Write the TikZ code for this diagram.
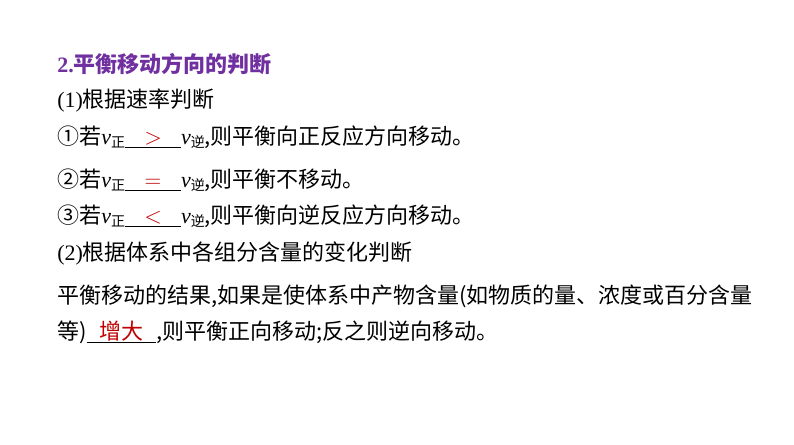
\documentclass[tikz,border=0pt]{standalone}
\usepackage{fontspec}
\setmainfont{Liberation Serif}
\newfontfamily\cjk{Noto Sans CJK SC}
\definecolor{ttl}{RGB}{112,48,160}
\definecolor{ans}{RGB}{192,0,0}
\newcommand{\blankfill}[2]{\rlap{\rule[-2pt]{#1}{0.6pt}}\makebox[#1]{\color{ans}#2}}
\newcommand{\vz}{$\mathit{v}$\raisebox{-2pt}{\fontsize{10.5}{10}\selectfont\cjk 正}}
\newcommand{\vn}{$\mathit{v}$\raisebox{-2pt}{\fontsize{10.5}{10}\selectfont\cjk 逆}}
\begin{document}
\begin{tikzpicture}[x=0.75pt,y=-0.75pt,
  txt/.style={anchor=base west,inner sep=0pt,font=\fontsize{16.5}{19}\selectfont}]
\useasboundingbox[fill=white] (0,0) rectangle (794,445);
\node[txt,text=ttl] (t) at (57,73) {\bfseries 2.\cjk\bfseries 平衡移动方向的判断};
\node[txt] (a) at (57,108) {(1){\cjk 根据速率判断}};
\node[txt] (b) at (57,145) {{\cjk ①若}\vz\blankfill{42pt}{$>$}\vn{\cjk ,则平衡向正反应方向移动。}};
\node[txt] (c) at (57,188) {{\cjk ②若}\vz\blankfill{42pt}{$=$}\vn{\cjk ,则平衡不移动。}};
\node[txt] (d) at (57,224) {{\cjk ③若}\vz\blankfill{42pt}{$<$}\vn{\cjk ,则平衡向逆反应方向移动。}};
\node[txt] (e) at (57,261) {(2){\cjk 根据体系中各组分含量的变化判断}};
\node[txt] (f) at (57,304) {\cjk 平衡移动的结果,如果是使体系中产物含量(如物质的量、浓度或百分含量};
\node[txt] (g) at (57,340) {{\cjk 等)}\blankfill{52pt}{\cjk 增大}{\cjk ,则平衡正向移动;反之则逆向移动。}};
\end{tikzpicture}
\end{document}
